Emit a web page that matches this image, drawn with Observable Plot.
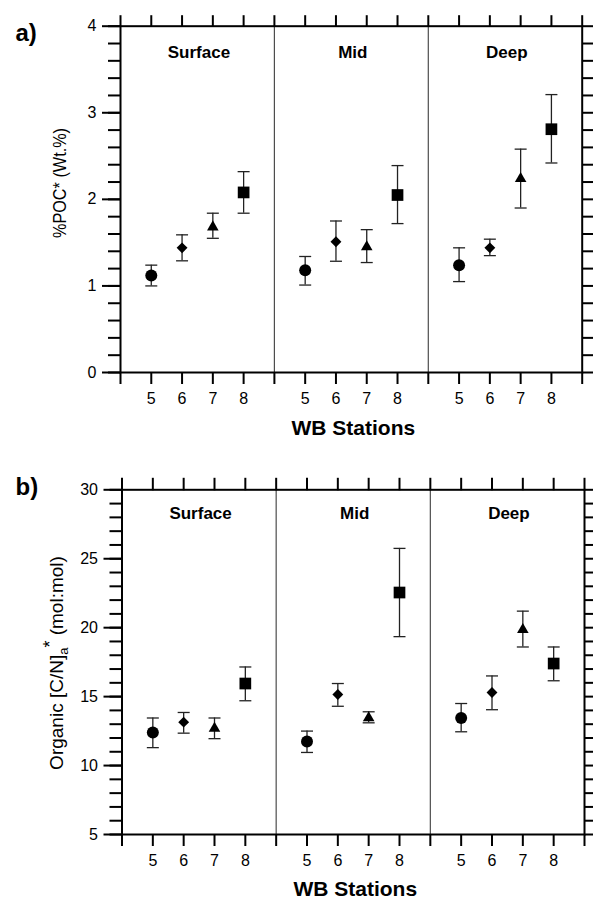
<!DOCTYPE html>
<html><head><meta charset="utf-8">
<script src="https://cdn.jsdelivr.net/npm/d3@7"></script>
<script src="https://cdn.jsdelivr.net/npm/@observablehq/plot@0.6"></script>
<style>
body{margin:0;background:#fff;}
#chart svg{display:block;}
</style></head><body><div id="chart"></div>
<script>
// ---- data ----
const stations = [5, 6, 7, 8];
const depths = ["Surface", "Mid", "Deep"];
const symbols = ["circle", "diamond2", "triangle", "square"];
const symbolSizes = [6, 4.9, 4.3, 6.6];

// %POC* (Wt.%)  rows: Surface, Mid, Deep ; columns: stations 5..8
const pocMean = [[1.12, 1.44, 1.68, 2.08], [1.18, 1.51, 1.45, 2.05], [1.24, 1.44, 2.24, 2.81]];
const pocLow  = [[1.00, 1.29, 1.55, 1.84], [1.01, 1.285, 1.27, 1.72], [1.05, 1.35, 1.90, 2.42]];
const pocHigh = [[1.24, 1.59, 1.84, 2.32], [1.34, 1.75, 1.65, 2.39], [1.44, 1.54, 2.58, 3.21]];

// Organic [C/N]a* (mol:mol)
const cnMean = [[12.4, 13.15, 12.7, 15.95], [11.75, 15.15, 13.45, 22.55], [13.45, 15.3, 19.85, 17.4]];
const cnLow  = [[11.3, 12.35, 11.95, 14.7], [10.95, 14.3, 13.1, 19.35], [12.45, 14.05, 18.6, 16.15]];
const cnHigh = [[13.45, 13.85, 13.45, 17.15], [12.5, 15.95, 13.9, 25.75], [14.5, 16.5, 21.2, 18.6]];

const pocMajor = [0, 1, 2, 3, 4];
const pocMinor = d3.range(0, 4.001, 0.2);
const cnMajor = [5, 10, 15, 20, 25, 30];
const cnMinor = d3.range(5, 30.001, 1);

function rowsFor(mean, lo, hi) {
  const rows = [];
  depths.forEach((d, di) => stations.forEach((s, si) => rows.push({
    depth: d, station: s, pos: di * 5 + si + 1,
    mean: mean[di][si], lo: lo[di][si], hi: hi[di][si],
    symbol: symbols[si], size: symbolSizes[si]
  })));
  return rows;
}

const cap = {draw(ctx) { ctx.moveTo(-6, 0); ctx.lineTo(6, 0); }};

function makePanel(o) {
  const rows = rowsFor(o.mean, o.lo, o.hi);
  const svg = Plot.plot({
    width: 593, height: o.height,
    marginTop: o.mt, marginBottom: o.mb, marginLeft: o.ml, marginRight: o.mr,
    x: {domain: [0, 15], axis: null},
    y: {domain: o.yDomain, axis: null},
    r: {type: "identity"},
    symbol: {domain: symbols, range: symbols},
    style: {fontFamily: "'Liberation Sans', Arial, sans-serif", color: "black", background: "white", overflow: "visible"},
    marks: [
      Plot.ruleX([5, 10], {stroke: "#4d4d4d", strokeWidth: 1.2}),
      Plot.axisX(d3.range(0, 16), {anchor: "top", tickSize: o.topTick, tickFormat: () => "", strokeWidth: 2, label: null}),
      Plot.axisX(d3.range(0, 16), {anchor: "bottom", tickSize: 12, tickPadding: 8, strokeWidth: 2, label: null, fontSize: 16,
        tickFormat: d => d % 5 === 0 ? "" : String(stations[d % 5 - 1])}),
      Plot.axisY(o.minor, {anchor: "left", tickSize: 12, tickFormat: () => "", strokeWidth: 2, label: null}),
      Plot.axisY(o.major, {anchor: "left", tickSize: 18, tickPadding: 6, strokeWidth: 2, label: null, fontSize: 16, tickFormat: d => String(d)}),
      Plot.axisY(o.minor, {anchor: "right", tickSize: 11, tickFormat: () => "", strokeWidth: 2, label: null}),
      Plot.frame({stroke: "black", strokeWidth: 2}),
      Plot.ruleX(rows, {x: "pos", y1: "lo", y2: "hi", stroke: "#222", strokeWidth: 1.3}),
      Plot.dot(rows, {x: "pos", y: "lo", symbol: cap, stroke: "#222", strokeWidth: 1.3, fill: "none"}),
      Plot.dot(rows, {x: "pos", y: "hi", symbol: cap, stroke: "#222", strokeWidth: 1.3, fill: "none"}),
      Plot.dot(rows, {x: "pos", y: "mean", symbol: "symbol", r: "size", fill: "black", stroke: null}),
      Plot.text(depths, {x: (d, i) => i * 5 + 2.5, frameAnchor: "top", lineAnchor: "middle", dy: o.labelDy, dx: 1.5, fontWeight: "bold", fontSize: 17}),
      Plot.text(["WB Stations"], {frameAnchor: "bottom", lineAnchor: "middle", dy: o.wbDy, dx: 2, fontWeight: "bold", fontSize: 21}),
      Plot.text([o.tag], {frameAnchor: "top-left", lineAnchor: "middle", dx: 15 - o.ml, dy: o.tagDy, textAnchor: "start", fontWeight: "bold", fontSize: 24})
    ]
  });
  return svg;
}

const chart = document.getElementById("chart");

const svgA = makePanel({
  mean: pocMean, lo: pocLow, hi: pocHigh, yDomain: [0, 4], major: pocMajor, minor: pocMinor,
  height: 450, mt: 25.7, mb: 78, ml: 120, mr: 11.3, topTick: 11.5,
  labelDy: 26, wbDy: 56, tag: "a)", tagDy: 7
});
d3.select(svgA).append("text")
  .attr("transform", "translate(60,183) rotate(-90)")
  .attr("text-anchor", "middle").attr("dy", "0.35em")
  .attr("font-size", 17.5).attr("fill", "black")
  .attr("textLength", 110).attr("lengthAdjust", "spacingAndGlyphs")
  .text("%POC* (Wt.%)");
chart.appendChild(svgA);

const svgB = makePanel({
  mean: cnMean, lo: cnLow, hi: cnHigh, yDomain: [5, 30], major: cnMajor, minor: cnMinor,
  height: 451, mt: 39.3, mb: 67, ml: 121.5, mr: 9, topTick: 12.5,
  labelDy: 24, wbDy: 55, tag: "b)", tagDy: -2
});
const yl = d3.select(svgB).append("text")
  .attr("transform", "translate(56,213) rotate(-90)")
  .attr("text-anchor", "middle").attr("dy", "0.35em")
  .attr("font-size", 19).attr("fill", "black");
yl.append("tspan").text("Organic [C/N]");
yl.append("tspan").attr("dy", 5).attr("font-size", 13).text("a");
yl.append("tspan").attr("dy", -12).attr("font-size", 18).text("*");
yl.append("tspan").attr("dy", 7).text(" (mol:mol)");
chart.appendChild(svgB);
</script>
</body></html>
